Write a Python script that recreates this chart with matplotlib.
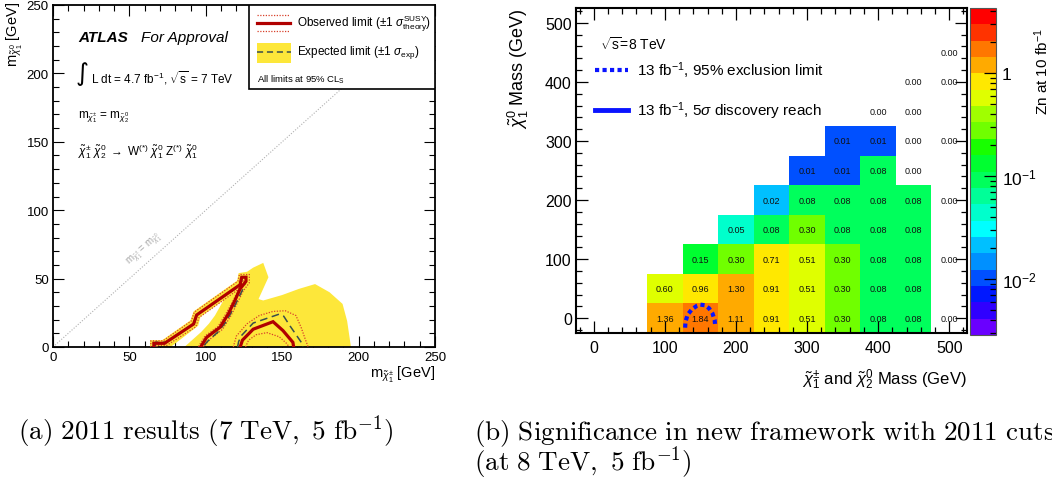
import numpy as np
import matplotlib
matplotlib.use("Agg")
import matplotlib.pyplot as plt
from matplotlib.colors import ListedColormap, LogNorm
from matplotlib.ticker import MultipleLocator, FixedLocator, FixedFormatter, NullFormatter
from matplotlib.patches import Polygon, Rectangle

plt.rcParams['font.family'] = ['Liberation Sans', 'DejaVu Sans']
plt.rcParams['mathtext.fontset'] = 'custom'
plt.rcParams['mathtext.rm'] = 'Liberation Sans'
plt.rcParams['mathtext.it'] = 'Liberation Sans:italic'
plt.rcParams['mathtext.bf'] = 'Liberation Sans:bold'
plt.rcParams['mathtext.sf'] = 'Liberation Sans'

# ---------------- (a) 2011 exclusion contours, masses in GeV ----------------
# observed limit, left sliver
obs_left_x = [66, 66, 73, 92, 94, 122.4, 123.5, 126.3, 126.3, 122.4, 119, 114.7, 109.3, 100.6, 96.6]
obs_left_y = [0, 2.7, 2.7, 16.8, 23.4, 45.5, 51, 51, 48, 42.4, 33.9, 24.1, 14.4, 7.1, 0]
# observed limit, right island
obs_right_x = [122.5, 124, 131, 144, 150.5, 157, 157.5]
obs_right_y = [0, 5, 13, 18.5, 12, 3.4, 0]
# observed +-1 sigma theory
obs_up_left_x = [64, 64, 72, 90.5, 92.5, 121, 122, 128.5, 128.5, 124.5, 121, 116.5, 111, 102.5, 98.5]
obs_up_left_y = [0, 4.5, 4.5, 19, 25.5, 48, 53, 53, 47, 41, 33, 23, 13, 5.5, 0]
obs_dn_left_x = [68, 68, 74.5, 93.5, 95.5, 122.5, 123.5, 124.5, 121, 117.5, 113, 108, 99.5, 95]
obs_dn_left_y = [0, 1.2, 1.2, 14.8, 21.5, 43, 48.5, 48.5, 41, 33, 24, 15, 8, 0]
obs_up_right_x = [118, 120, 127, 135, 144, 152, 159, 162.5, 165, 167]
obs_up_right_y = [0, 8, 17, 23, 26, 26.5, 23, 14, 6, 0]
obs_dn_right_x = [126, 128, 133, 140, 148, 153, 154.5]
obs_dn_right_y = [0, 5, 9, 10.5, 7.5, 2.5, 0]
# expected limit
exp_left_x = [67, 67, 74, 92.5, 94.5, 122.5, 124, 126.5, 125, 121.5, 118, 113, 108, 101, 98]
exp_left_y = [0, 3.5, 3.5, 17.5, 24, 45, 51, 50, 44, 36, 28, 18, 11, 4, 0]
exp_right_x = [120.8, 121.5, 123.3, 131, 148, 151, 155, 162.5, 163.5]
exp_right_y = [0, 4, 8.3, 17.5, 24, 22.5, 15.6, 3.4, 0]
# expected +-1 sigma band outline
band_x = [63.5, 63.5, 71.5, 90, 92, 120.5, 121.5, 127, 131, 137.6, 141, 134.5, 137.6, 150, 161,
          171.5, 181, 189.5, 192.5, 195, 86, 91, 97, 102, 106, 109, 111.5, 96.5, 95, 77]
band_y = [0, 5, 5, 19.5, 26, 48.5, 54, 55, 58, 61.5, 51, 35, 34, 38, 42.5,
          46, 40, 31.5, 19, 0, 0, 5, 11, 17, 23, 29, 34, 22, 15.5, 0]

# ---------------- (b) significance grid ----------------
m_chargino = [100, 150, 200, 250, 300, 350, 400, 450, 500]
m_lsp = [0, 50, 100, 150, 200, 250, 300, 350, 400, 450]
nan = np.nan
zn = np.array([
    [1.36, 1.84, 1.11, 0.91, 0.51, 0.30, 0.08, 0.08, 0.00],
    [0.60, 0.96, 1.30, 0.91, 0.51, 0.30, 0.08, 0.08, nan],
    [nan, 0.15, 0.30, 0.71, 0.51, 0.30, 0.08, 0.08, 0.00],
    [nan, nan, 0.05, 0.08, 0.30, 0.08, 0.08, 0.08, nan],
    [nan, nan, nan, 0.02, 0.08, 0.08, 0.08, 0.08, 0.00],
    [nan, nan, nan, nan, 0.01, 0.01, 0.08, 0.00, nan],
    [nan, nan, nan, nan, nan, 0.01, 0.01, 0.00, 0.00],
    [nan, nan, nan, nan, nan, nan, 0.00, 0.00, nan],
    [nan, nan, nan, nan, nan, nan, nan, 0.00, 0.00],
    [nan, nan, nan, nan, nan, nan, nan, nan, 0.00],
])
# 95% exclusion contour at 13 fb-1
excl_x = [128.5, 129, 132, 138, 145, 150, 156, 162, 167, 170, 171]
excl_y = [-16, -6, 6, 15, 21, 23, 22, 17, 8, -3, -15]

palette = ['#6a00ff', '#3000ff', '#0018ff', '#0050ff', '#0090ff', '#00c0ff', '#00ffff',
           '#00ffcc', '#00ff98', '#00ff5c', '#00ff30', '#18ff00', '#70ff00', '#a0ff00',
           '#dfff00', '#ffe800', '#ffaa00', '#ff7700', '#ff3300', '#ff0000']

W, H = 1052, 481
fig = plt.figure(figsize=(W / 100, H / 100), dpi=100)


def fx(px):
    return px / W


def fy(py):
    return 1 - py / H


# ================= panel (a) =================
ax1 = fig.add_axes([fx(53), fy(348), (435 - 53) / W, (348 - 6) / H])
ax1.set_xlim(0, 250)
ax1.set_ylim(0, 250)
ax1.xaxis.set_major_locator(MultipleLocator(50))
ax1.xaxis.set_minor_locator(MultipleLocator(10))
ax1.yaxis.set_major_locator(MultipleLocator(50))
ax1.yaxis.set_minor_locator(MultipleLocator(10))
ax1.tick_params(which='both', direction='in', top=True, right=True, labelsize=9.5, width=0.8)
ax1.tick_params(which='major', length=8, pad=3)
ax1.tick_params(which='minor', length=4.5)
for s in ax1.spines.values():
    s.set_linewidth(1.3)

ax1.axline((0, 0), slope=1, color='#b0b0b0', lw=0.8, ls=(0, (1, 1.5)), zorder=1)
ax1.text(60, 72, r'm$_{\tilde{\chi}^{\pm}_{1}}$ = m$_{\tilde{\chi}^{0}_{1}}$', color='#a8a8a8',
         fontsize=7, rotation=41.8, ha='center', va='center', rotation_mode='anchor')

ax1.add_patch(Polygon(np.column_stack([band_x, band_y]), closed=True, facecolor='#fde73a',
                      edgecolor='none', zorder=2))
dot_kw = dict(color='#d8402a', lw=0.9, ls=(0, (1, 1.2)), zorder=3)
for xs, ys in [(obs_up_left_x, obs_up_left_y), (obs_dn_left_x, obs_dn_left_y),
               (obs_up_right_x, obs_up_right_y), (obs_dn_right_x, obs_dn_right_y)]:
    ax1.plot(xs, ys, **dot_kw)
for xs, ys in [(exp_left_x, exp_left_y), (exp_right_x, exp_right_y)]:
    ax1.plot(xs, ys, color='#3a4e4c', lw=1.1, ls=(0, (5, 3)), zorder=4)
for xs, ys in [(obs_left_x, obs_left_y), (obs_right_x, obs_right_y)]:
    ax1.plot(xs, ys, color='#b00000', lw=2.3, zorder=5, solid_joinstyle='miter')

# legend box
lx0 = (249 - 53) / 382
ly0 = (348 - 90) / 342
ax1.add_patch(Rectangle((lx0, ly0), 1 - lx0, 1 - ly0, transform=ax1.transAxes,
                        facecolor='white', edgecolor='black', lw=1.2, zorder=6))
sx0, sx1 = (257 - 53) / 382, (290 - 53) / 382
ax1.plot([sx0, sx1], [0.947, 0.947], transform=ax1.transAxes, color='#b00000', lw=2.3, zorder=7)
for yy in (0.971, 0.925):
    ax1.plot([sx0, sx1], [yy, yy], transform=ax1.transAxes, color='#d8402a', lw=0.9,
             ls=(0, (1, 1.2)), zorder=7)
ax1.add_patch(Rectangle((sx0, 0.830), (291 - 257) / 382, 0.059, transform=ax1.transAxes,
                        facecolor='#fde73a', edgecolor='none', zorder=7))
ax1.plot([sx0, (291 - 53) / 382], [0.8626, 0.8626], transform=ax1.transAxes, color='#3a4e4c',
         lw=1.1, ls=(0, (4, 2.5)), zorder=8)
tx = (297 - 53) / 382
ax1.text(tx, 0.947, r'Observed limit ($\pm$1 $\sigma^{\mathrm{SUSY}}_{\mathrm{theory}}$)',
         transform=ax1.transAxes, fontsize=8.5, va='center', zorder=8)
ax1.text(tx, 0.8626, r'Expected limit ($\pm$1 $\sigma_{\mathrm{exp}}$)',
         transform=ax1.transAxes, fontsize=8.5, va='center', zorder=8)
ax1.text(sx0, 0.784, r'All limits at 95% CL$_{\mathrm{S}}$', transform=ax1.transAxes,
         fontsize=6.8, va='center', zorder=8)

# annotations
ax1.text(0.0654, 0.906, 'ATLAS', transform=ax1.transAxes, fontsize=11, fontweight='bold',
         fontstyle='italic', va='center')
ax1.text(0.230, 0.906, 'For Approval', transform=ax1.transAxes, fontsize=11,
         fontstyle='italic', va='center')
ax1.text(0.0600, 0.800, '\u222b', transform=ax1.transAxes, fontsize=18, va='center',
         family=['DejaVu Sans'])
ax1.text(0.0995, 0.789, r'L dt = 4.7 fb$^{-1}$, $\sqrt{\mathrm{s}}$ = 7 TeV', transform=ax1.transAxes,
         fontsize=8.5, va='center')
ax1.text(0.0654, 0.675, r'm$_{\tilde{\chi}^{\pm}_{1}}$ = m$_{\tilde{\chi}^{0}_{2}}$',
         transform=ax1.transAxes, fontsize=8.5, va='center')
ax1.text(0.0654, 0.573,
         r'$\tilde{\chi}^{\pm}_{1}\ \tilde{\chi}^{0}_{2}\ \rightarrow\ \mathrm{W}^{(*)}\ \tilde{\chi}^{0}_{1}\ \mathrm{Z}^{(*)}\ \tilde{\chi}^{0}_{1}$',
         transform=ax1.transAxes, fontsize=8.5, va='center')

fig.text(fx(435), fy(375), r'm$_{\tilde{\chi}^{\pm}_{1}}$ [GeV]', fontsize=10.5, ha='right', va='center')
fig.text(fx(15), fy(2), r'm$_{\tilde{\chi}^{0}_{1}}$ [GeV]', fontsize=10.5, rotation=90,
         ha='center', va='top')

# ================= panel (b) =================
ax2 = fig.add_axes([fx(576), fy(334), (967 - 576) / W, (334 - 9) / H])
ax2.set_xlim(-25, 525)
ax2.set_ylim(-25, 525)
ax2.xaxis.set_major_locator(MultipleLocator(100))
ax2.xaxis.set_minor_locator(MultipleLocator(20))
ax2.yaxis.set_major_locator(MultipleLocator(100))
ax2.yaxis.set_minor_locator(MultipleLocator(20))
ax2.tick_params(which='both', direction='in', top=True, right=True, labelsize=11.5, width=0.9)
ax2.tick_params(which='major', length=8.5)
ax2.tick_params(which='minor', length=4.5)
ax2.tick_params(axis='x', pad=5)
ax2.tick_params(axis='y', pad=3)
for s in ax2.spines.values():
    s.set_linewidth(1.5)

cmap = ListedColormap(palette)
cmap.set_bad((1, 1, 1, 0))
step = 0.1587
norm = LogNorm(vmin=10 ** (-16 * step), vmax=10 ** (4 * step))

xc = np.array(m_chargino, dtype=float)
yc = np.array(m_lsp, dtype=float)
x_edges = np.r_[xc - 25, xc[-1] + 25]
y_edges = np.r_[yc - 25, yc[-1] + 25]
zmask = np.ma.masked_where(~(np.nan_to_num(zn, nan=-1) > 0), zn)
mesh = ax2.pcolormesh(x_edges, y_edges, zmask, cmap=cmap, norm=norm, zorder=1)
for i, yv in enumerate(m_lsp):
    for j, xv in enumerate(m_chargino):
        v = zn[i, j]
        if not np.isnan(v):
            ax2.text(xv, yv, f'{v:.2f}', ha='center', va='center', fontsize=6.5,
                     color='#111111', zorder=3)

ax2.plot(excl_x, excl_y, color='#0a14ff', lw=3, ls=(0, (1, 0.8)), zorder=4,
         dash_capstyle='butt')

ax2.text(0.061, 0.892, r'$\sqrt{\mathrm{s}}$=8 TeV', transform=ax2.transAxes, fontsize=10, va='center')
ax2.plot([0.0486, 0.133], [0.809, 0.809], transform=ax2.transAxes, color='#0a14ff', lw=3,
         ls=(0, (1, 0.8)), dash_capstyle='butt')
ax2.plot([0.0486, 0.133], [0.686, 0.686], transform=ax2.transAxes, color='#0a14ff', lw=3.5)
ax2.text(0.156, 0.809, r'13 fb$^{-1}$, 95% exclusion limit', transform=ax2.transAxes,
         fontsize=11, va='center')
ax2.text(0.156, 0.686, r'13 fb$^{-1}$, 5$\sigma$ discovery reach', transform=ax2.transAxes,
         fontsize=11, va='center')

fig.text(fx(967), fy(380), r'$\tilde{\chi}^{\pm}_{1}$ and $\tilde{\chi}^{0}_{2}$ Mass (GeV)',
         fontsize=12, ha='right', va='center')
fig.text(fx(518), fy(8), r'$\tilde{\chi}^{0}_{1}$ Mass (GeV)', fontsize=13, rotation=90,
         ha='center', va='top')

# colour scale
cax = fig.add_axes([fx(970), fy(336), 26 / W, (336 - 9) / H])
cb = fig.colorbar(mesh, cax=cax)
cb.outline.set_linewidth(0.8)
cb.outline.set_edgecolor('#555555')
cax.yaxis.set_ticks_position('right')
cax.yaxis.set_major_locator(FixedLocator([0.01, 0.1, 1.0]))
cax.yaxis.set_major_formatter(FixedFormatter([r'10$^{-2}$', r'10$^{-1}$', '1']))
minor = [m * d for d in (0.001, 0.01, 0.1, 1.0) for m in range(2, 10)]
minor = [v for v in minor if norm.vmin < v < norm.vmax]
cax.yaxis.set_minor_locator(FixedLocator(minor))
cax.yaxis.set_minor_formatter(NullFormatter())
cax.tick_params(which='both', direction='in', right=True, left=False, labelsize=12.5, width=0.9)
cax.tick_params(which='major', length=8.5, pad=4)
cax.tick_params(which='minor', length=4.5)
fig.text(fx(1042), fy(28), r'Zn at 10 fb$^{-1}$', fontsize=11, rotation=90, ha='center', va='top')

# captions
cap_kw = dict(fontsize=19.5, math_fontfamily='cm', va='baseline', ha='left')
fig.text(fx(18), fy(440), r'$\mathrm{(a)\ 2011\ results\ (7\ TeV,\ 5\ fb}^{-1}\mathrm{)}$', **cap_kw)
fig.text(fx(474), fy(440), r'$\mathrm{(b)\ Significance\ in\ new\ framework\ with\ 2011\ cuts}$', **cap_kw)
fig.text(fx(474), fy(471), r'$\mathrm{(at\ 8\ TeV,\ 5\ fb}^{-1}\mathrm{)}$', **cap_kw)

fig.savefig('out.png', dpi=100, facecolor='white')
